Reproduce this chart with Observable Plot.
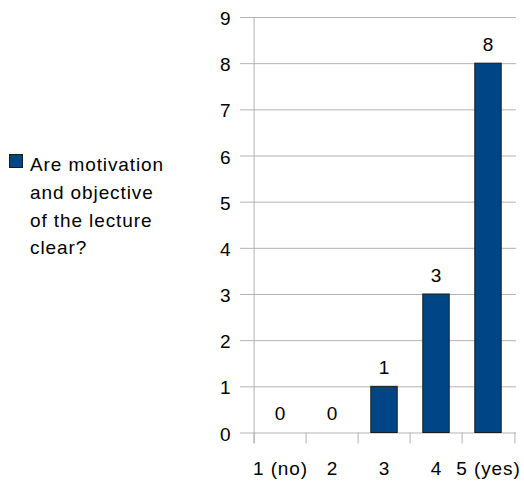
<!DOCTYPE html>
<html>
<head>
<meta charset="utf-8">
<script src="https://cdn.jsdelivr.net/npm/d3@7"></script>
<script src="https://cdn.jsdelivr.net/npm/@observablehq/plot@0.6"></script>
<style>
  html, body { margin: 0; padding: 0; background: #fff; }
  #wrap { position: relative; width: 524px; height: 482px; }
  #legend { position: absolute; left: 9px; top: 151px; font-family: "Liberation Sans", Arial, sans-serif;
    font-size: 19px; letter-spacing: 0.9px; line-height: 27.8px; color: #000; white-space: pre-line; }
  #legend .sw { position: absolute; left: 0; top: 3px; width: 12px; height: 12px; background: #004586; border: 1px solid #1a1a1a; }
  #legend .tx { margin-left: 21px; }
</style>
</head>
<body>
<div id="wrap"></div>
<script>
const categories = ["1 (no)", "2", "3", "4", "5 (yes)"];
const counts = [0, 0, 1, 3, 8];
const yTicks = [0, 1, 2, 3, 4, 5, 6, 7, 8, 9];
const seriesName = "Are motivation\nand objective\nof the lecture\nclear?";
const barColor = "#004586";

const data = categories.map((c, i) => ({category: c, count: counts[i]}));

const W = 524, H = 482, mL = 252, mR = 8, mT = 17, mB = 49.5;
const step = (W - mL - mR) / categories.length;
const grid = "#b3b3b3";

const plot = Plot.plot({
  width: W, height: H,
  marginLeft: mL, marginRight: mR, marginTop: mT, marginBottom: mB,
  style: {fontFamily: "Liberation Sans, Arial, sans-serif", fontSize: "19px", background: "white", color: "#000", letterSpacing: "0.9px", overflow: "visible"},
  x: {domain: categories, padding: 0, axis: null},
  y: {domain: [0, 9], axis: null},
  marks: [
    Plot.ruleY(yTicks, {y: d => d, stroke: grid, strokeWidth: 1, insetLeft: -12}),
    Plot.ruleX([categories[0]], {x: d => d, dx: -step / 2, stroke: grid, insetBottom: -11}),
    Plot.ruleX(categories, {x: d => d, dx: -step / 2, y1: 0, y2: 0, stroke: grid, insetBottom: -11}),
    Plot.ruleX([categories[categories.length - 1]], {x: d => d, dx: step / 2, y1: 0, y2: 0, stroke: grid, insetBottom: -11}),
    Plot.barY(data.filter(d => d.count > 0), {x: "category", y: "count", fill: barColor, stroke: "#1a1a1a", strokeWidth: 1, insetLeft: 12.8, insetRight: 12.8}),
    Plot.text(data, {x: "category", y: "count", text: d => String(d.count), lineAnchor: "bottom", dy: -13, fill: "#000"}),
    Plot.text(yTicks, {y: d => d, text: d => String(d), frameAnchor: "left", textAnchor: "end", dx: -21, dy: 1.5, fill: "#000"}),
    Plot.text(categories, {x: d => d, text: d => d, frameAnchor: "bottom", lineAnchor: "bottom", dy: 41.5, fill: "#000"})
  ]
});

const wrap = document.getElementById("wrap");
wrap.appendChild(plot);
const legend = document.createElement("div");
legend.id = "legend";
legend.innerHTML = '<div class="sw"></div><div class="tx"></div>';
legend.querySelector(".tx").textContent = seriesName;
wrap.appendChild(legend);
</script>
</body>
</html>
